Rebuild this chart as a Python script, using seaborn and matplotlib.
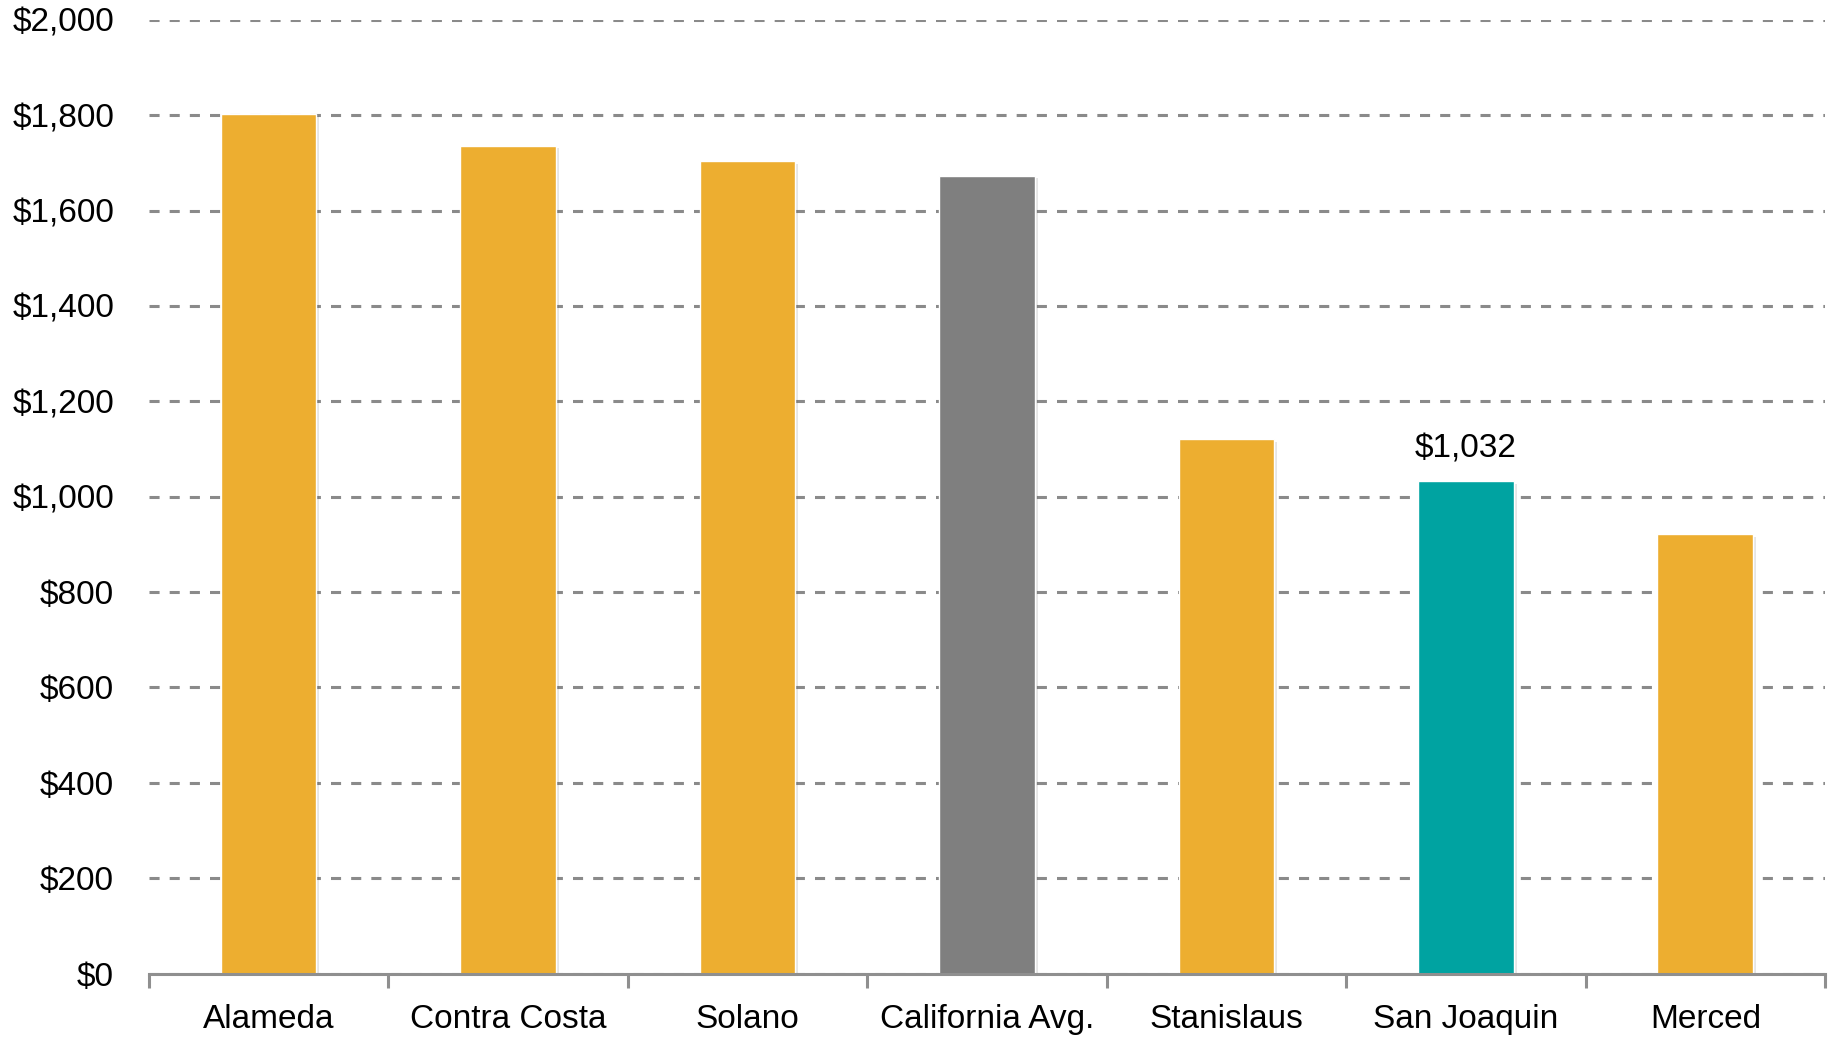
import matplotlib
matplotlib.use('Agg')
import matplotlib.pyplot as plt
import matplotlib.patheffects as pe
import seaborn as sns
from matplotlib.ticker import FuncFormatter, MultipleLocator

# data
counties = ['Alameda', 'Contra Costa', 'Solano', 'California Avg.',
            'Stanislaus', 'San Joaquin', 'Merced']
values = [1803, 1736, 1703, 1673, 1121, 1032, 921]
bar_colors = ['#EDAE30', '#EDAE30', '#EDAE30', '#7F7F7F',
              '#EDAE30', '#00A3A1', '#EDAE30']
labelled = 'San Joaquin'

sns.set_style('white')
plt.rcParams['font.family'] = ['Liberation Sans', 'DejaVu Sans']
plt.rcParams['text.color'] = 'black'
plt.rcParams['xtick.color'] = 'black'
plt.rcParams['ytick.color'] = 'black'

fig = plt.figure(figsize=(18.37, 10.39), dpi=100)
ax = fig.add_axes([0.081, 0.063, 0.9125, 0.918])

sns.barplot(x=counties, y=values, hue=counties, palette=bar_colors,
            legend=False, width=0.4, saturation=1, ax=ax, zorder=3)

# light shadow on the bars
for p in ax.patches:
    p.set_path_effects([pe.SimplePatchShadow(offset=(2, -2), alpha=0.15,
                                             shadow_rgbFace='#555555'),
                        pe.Normal()])

# value label only on the highlighted bar
for cont in ax.containers:
    labs = []
    for bar in cont:
        idx = int(round(bar.get_x() + bar.get_width() / 2))
        labs.append(f'${values[idx]:,}' if counties[idx] == labelled else '')
    ax.bar_label(cont, labels=labs, padding=12, fontsize=24, color='black')

ax.set_ylim(0, 2000)
ax.set_xlim(-0.5, len(counties) - 0.5)
ax.yaxis.set_major_locator(MultipleLocator(200))
ax.yaxis.set_major_formatter(FuncFormatter(lambda v, _: f'${v:,.0f}'))
ax.yaxis.grid(True, color='#8A8A8A', linestyle=(0, (3.3, 3.3)), linewidth=2.2, zorder=0)
ax.set_axisbelow(True)

for s in ['left', 'right', 'top']:
    ax.spines[s].set_visible(False)
ax.spines['bottom'].set_color('#8F8F8F')
ax.spines['bottom'].set_linewidth(2.2)
ax.spines['bottom'].set_zorder(4)

# tick marks between categories, labels centred
ax.set_xticks([i + 0.5 for i in range(-1, len(counties))], minor=True)
ax.tick_params(axis='x', which='minor', bottom=True, length=10, width=2.2,
               color='#8F8F8F', direction='out')
ax.tick_params(axis='x', which='major', bottom=True, length=0, pad=22, labelsize=24,
               labelcolor='black')
ax.tick_params(axis='y', length=0, pad=25, labelsize=24, labelcolor='black')
ax.set_xlabel('')
ax.set_ylabel('')

fig.savefig('out.png', dpi=100, facecolor='white')
